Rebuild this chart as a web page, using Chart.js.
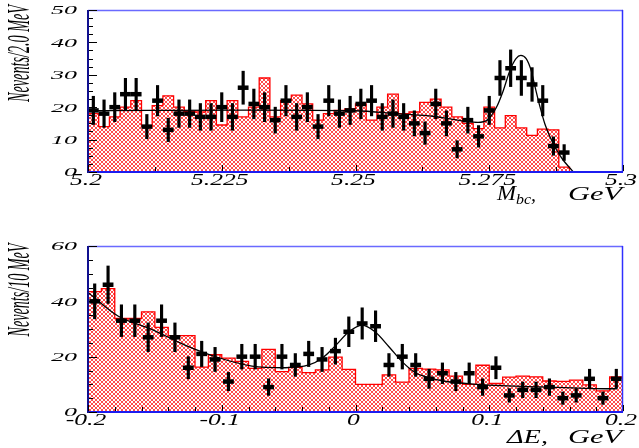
<!DOCTYPE html>
<html><head><meta charset="utf-8">
<script src="https://cdn.jsdelivr.net/npm/chart.js@4"></script>
<style>
html,body{margin:0;padding:0;background:#fff;width:639px;height:448px;overflow:hidden}
canvas{position:absolute;left:0}
#c1{top:0}#c2{top:224px}
</style></head><body>
<canvas id="c1" width="639" height="224"></canvas>
<canvas id="c2" width="639" height="224"></canvas>
<script>
// ---------- Top panel: M_bc, 2 MeV bins from 5.20 GeV ----------
const mbcBinLow = 5.2, mbcBinWidth = 0.002;
const mbcCounts = [19,18,20,24,24,14,22,13,18,18,17,17,20,17,26,21,20,16,22,17,20,14,22,18,19,21,22,17,18,17,15,12,21,15,7,16,11,19,29,32,29,27,22,8,6];
const mbcHist = [18,14,17,20,22,14,20.5,23.5,20,18.7,18.5,22,14.5,22,17,20,29,17,22,23.7,21,16,18,19,19.5,21,16,20,24,18,18.5,21.5,22.5,20,17,15,13.4,20,13.6,17.4,13.6,11.3,13.2,13,1.5];
const mbcFitX = [5.2,5.2116,5.2303,5.2499,5.2583,5.2645,5.2677,5.2707,5.2729,5.2746,5.2763,5.2776,5.2789,5.2800,5.2809,5.2819,5.2828,5.2836,5.2845,5.2854,5.2864,5.2875,5.2888,5.2901,5.2907];
const mbcFitY = [18.9,19.0,19.1,18.9,17.9,17.2,16.4,15.6,15.3,16.0,19.8,25.0,31.5,35.0,36.0,35.0,31.5,26.0,20.0,14.8,10.7,7.0,3.7,1.2,0];
const mbcXLabels = ['5.2','5.225','5.25','5.275','5.3'];
const mbcYLabels = ['0','10','20','30','40','50'];

// ---------- Bottom panel: Delta E, 10 MeV bins from -0.2 GeV ----------
const deBinLow = -0.2, deBinWidth = 0.01;
const deCounts = [40,46,33,33,27,33,27,16,21,19,11,20,20,9,20,17,21,19,22,29,32,31,17,20,17,12,14,11,14,9,16,6,8,8,9,5,6,12,5,12];
const deHist = [43.5,44.6,33.8,33.8,36.2,30.6,27.6,27.6,16.2,20.7,19.5,18.3,15.8,22.6,14.6,16.1,14.2,15.2,19.8,15.4,10,10,13.4,10.8,15.8,15.5,15.2,13,10,16.9,10.3,12.6,13,12.7,11.2,11.1,11.5,9.8,7.6,12.7];
const deFitX = [-0.2,-0.1776,-0.1521,-0.1275,-0.1028,-0.0774,-0.0527,-0.0348,-0.0250,-0.0153,-0.0049,0.0049,0.0146,0.0250,0.0348,0.0445,0.0549,0.0647,0.0879,0.1379,0.1880,0.1955];
const deFitY = [43.2,34.7,29.8,24.2,19.7,16.6,16.0,17.0,19.4,23.8,29.0,31.4,29.0,23.6,18.2,14.3,12.4,11.3,10.1,9.1,8.4,8.4];
const deXLabels = ['-0.2','-0.1','0','0.1','0.2'];
const deYLabels = ['0','20','40','60'];

function hatchPattern(){
  const c=document.createElement('canvas'); c.width=4; c.height=4;
  const g=c.getContext('2d');
  g.fillStyle='#ffffff'; g.fillRect(0,0,4,4);
  g.fillStyle='#ff4c4c';
  [[0,0],[1,1],[2,2],[3,3],[3,0],[2,1],[1,2],[0,3]].forEach(p=>g.fillRect(p[0],p[1],1,1));
  return g.createPattern(c,'repeat');
}
const pat = hatchPattern();

function histPoints(low,w,vals){
  const pts=[{x:low,y:0}];
  vals.forEach((v,i)=>pts.push({x:low+i*w,y:v}));
  pts.push({x:low+vals.length*w,y:0});
  return pts;
}
function centers(low,w,vals){ return vals.map((v,i)=>low+(i+0.5)*w); }

function stext(ctx,text,x,y,font,sx,align,base){
  ctx.save(); ctx.font=font; ctx.translate(x,y); ctx.scale(sx,1);
  ctx.textAlign=align||'left'; ctx.textBaseline=base||'alphabetic';
  ctx.fillText(text,0,0); ctx.restore();
}
function fitText(ctx,text,x,y,font,w,base){
  ctx.save(); ctx.font=font; const m=ctx.measureText(text).width;
  ctx.translate(x,y); ctx.scale(w/m,1); ctx.textBaseline=base||'alphabetic';
  ctx.fillText(text,0,0); ctx.restore();
}

const deco={
  id:'deco',
  afterDraw(chart,args,o){
    const {ctx,chartArea:a,scales:{x,y}}=chart;
    ctx.save();
    // frame
    ctx.lineWidth=1.5; ctx.strokeStyle='#6a6aff';
    ctx.beginPath(); ctx.moveTo(a.left,a.top+0.5); ctx.lineTo(a.right,a.top+0.5); ctx.stroke();
    ctx.strokeStyle='#3030ff';
    ctx.beginPath(); ctx.moveTo(a.right-0.5,a.top); ctx.lineTo(a.right-0.5,a.bottom); ctx.stroke();
    ctx.lineWidth=2; ctx.strokeStyle='#1c1cf0';
    ctx.beginPath(); ctx.moveTo(a.left,a.bottom); ctx.lineTo(a.right,a.bottom); ctx.stroke();
    ctx.strokeStyle='#101090';
    ctx.beginPath(); ctx.moveTo(a.left,a.top); ctx.lineTo(a.left,a.bottom+1); ctx.stroke();
    // ticks
    ctx.strokeStyle='#000'; ctx.lineWidth=1;
    for(let i=0;i<=o.xN;i++){
      const v=o.xMin+(o.xMax-o.xMin)*i/o.xN; const px=Math.round(x.getPixelForValue(v))+0.5;
      const len=(i%o.xMajEvery===0)?6:4;
      ctx.beginPath(); ctx.moveTo(px,a.bottom-1); ctx.lineTo(px,a.bottom-1-len); ctx.stroke();
    }
    for(let i=0;i<=o.yN;i++){
      const v=o.yMax*i/o.yN; const py=Math.round(y.getPixelForValue(v))+0.5;
      const len=(i%o.yMajEvery===0)?8:4;
      ctx.beginPath(); ctx.moveTo(a.left+1,py); ctx.lineTo(a.left+1+len,py); ctx.stroke();
    }
    ctx.fillStyle='#000';
    // x tick labels
    o.xLabels.forEach(t=>{
      const px=x.getPixelForValue(parseFloat(t));
      stext(ctx,t,px-2,o.xLabY,'italic 16px "Liberation Serif"',1.6,'center');
    });
    // y tick labels
    o.yLabels.forEach(t=>{
      const py=y.getPixelForValue(parseFloat(t));
      stext(ctx,t,77,py+1,'italic 13px "Liberation Serif"',2.0,'right','middle');
    });
    // y title
    ctx.save();
    ctx.translate(21,o.yTitleC); ctx.rotate(-Math.PI/2);
    ctx.font='italic 31px "Liberation Serif"';
    const m=ctx.measureText(o.yTitle).width; ctx.scale(o.yTitleLen/m,1);
    ctx.textAlign='center'; ctx.textBaseline='middle'; ctx.fillText(o.yTitle,0,0);
    ctx.restore();
    // x title
    o.xTitle(ctx);
    ctx.restore();
  }
};

function makeChart(id,cfg){
  const cs=centers(cfg.low,cfg.w,cfg.counts);
  return new Chart(document.getElementById(id),{
    type:'scatter',
    data:{datasets:[
      {type:'line',data:histPoints(cfg.low,cfg.w,cfg.hist),stepped:true,fill:'origin',
       backgroundColor:pat,borderColor:'#ff0000',borderWidth:1.3,pointRadius:0,order:4},
      {type:'line',data:cfg.fitX.map((v,i)=>({x:v,y:cfg.fitY[i]})),borderColor:'#000',borderWidth:1.3,
       pointRadius:0,fill:false,cubicInterpolationMode:'monotone',order:3},
      {type:'bar',data:cfg.counts.map((v,i)=>({x:cs[i],y:[v-Math.sqrt(v),v+Math.sqrt(v)]})),
       backgroundColor:'#000',barThickness:2.5,grouped:false,order:2},
      {type:'scatter',data:cfg.counts.map((v,i)=>({x:cs[i],y:v})),pointStyle:'line',pointRadius:5.4,
       pointBorderWidth:4.5,borderColor:'#000',backgroundColor:'#000',order:1}
    ]},
    options:{
      responsive:false,animation:false,events:[],
      layout:{padding:cfg.pad},
      scales:{
        x:{type:'linear',min:cfg.xMin,max:cfg.xMax,display:false,offset:false},
        y:{type:'linear',min:0,max:cfg.yMax,display:false}
      },
      plugins:{legend:{display:false},tooltip:{enabled:false},deco:cfg.deco}
    },
    plugins:[deco]
  });
}

makeChart('c1',{
  low:mbcBinLow,w:mbcBinWidth,counts:mbcCounts,hist:mbcHist,fitX:mbcFitX,fitY:mbcFitY,
  xMin:5.2,xMax:5.3,yMax:50,pad:{left:88,right:16,top:6,bottom:52},
  deco:{xMin:5.2,xMax:5.3,xN:8,xMajEvery:2,yMax:50,yN:20,yMajEvery:4,
    xLabels:mbcXLabels,yLabels:mbcYLabels,xLabY:184.5,yTitle:'Nevents/2.0 MeV',yTitleC:53.5,yTitleLen:97,
    xTitle:(ctx)=>{
      fitText(ctx,'M',497,200,'italic 20px "Liberation Serif"',19);
      fitText(ctx,'bc',516,204,'italic 14px "Liberation Serif"',15);
      fitText(ctx,',',531,201,'italic 18px "Liberation Serif"',5);
      fitText(ctx,'GeV',568,200,'italic 19px "Liberation Serif"',54);
    }}
});

makeChart('c2',{
  low:deBinLow,w:deBinWidth,counts:deCounts,hist:deHist,fitX:deFitX,fitY:deFitY,
  xMin:-0.2,xMax:0.2,yMax:60,pad:{left:88,right:16,top:22,bottom:36},
  deco:{xMin:-0.2,xMax:0.2,xN:20,xMajEvery:5,yMax:60,yN:12,yMajEvery:4,
    xLabels:deXLabels,yLabels:deYLabels,xLabY:200.5,yTitle:'Nevents/10 MeV',yTitleC:66,yTitleLen:93,
    xTitle:(ctx)=>{
      fitText(ctx,'\u0394E,',507,219,'italic 19px "Liberation Serif"',41);
      fitText(ctx,'GeV',568,219,'italic 19px "Liberation Serif"',54);
    }}
});
</script>
</body></html>
